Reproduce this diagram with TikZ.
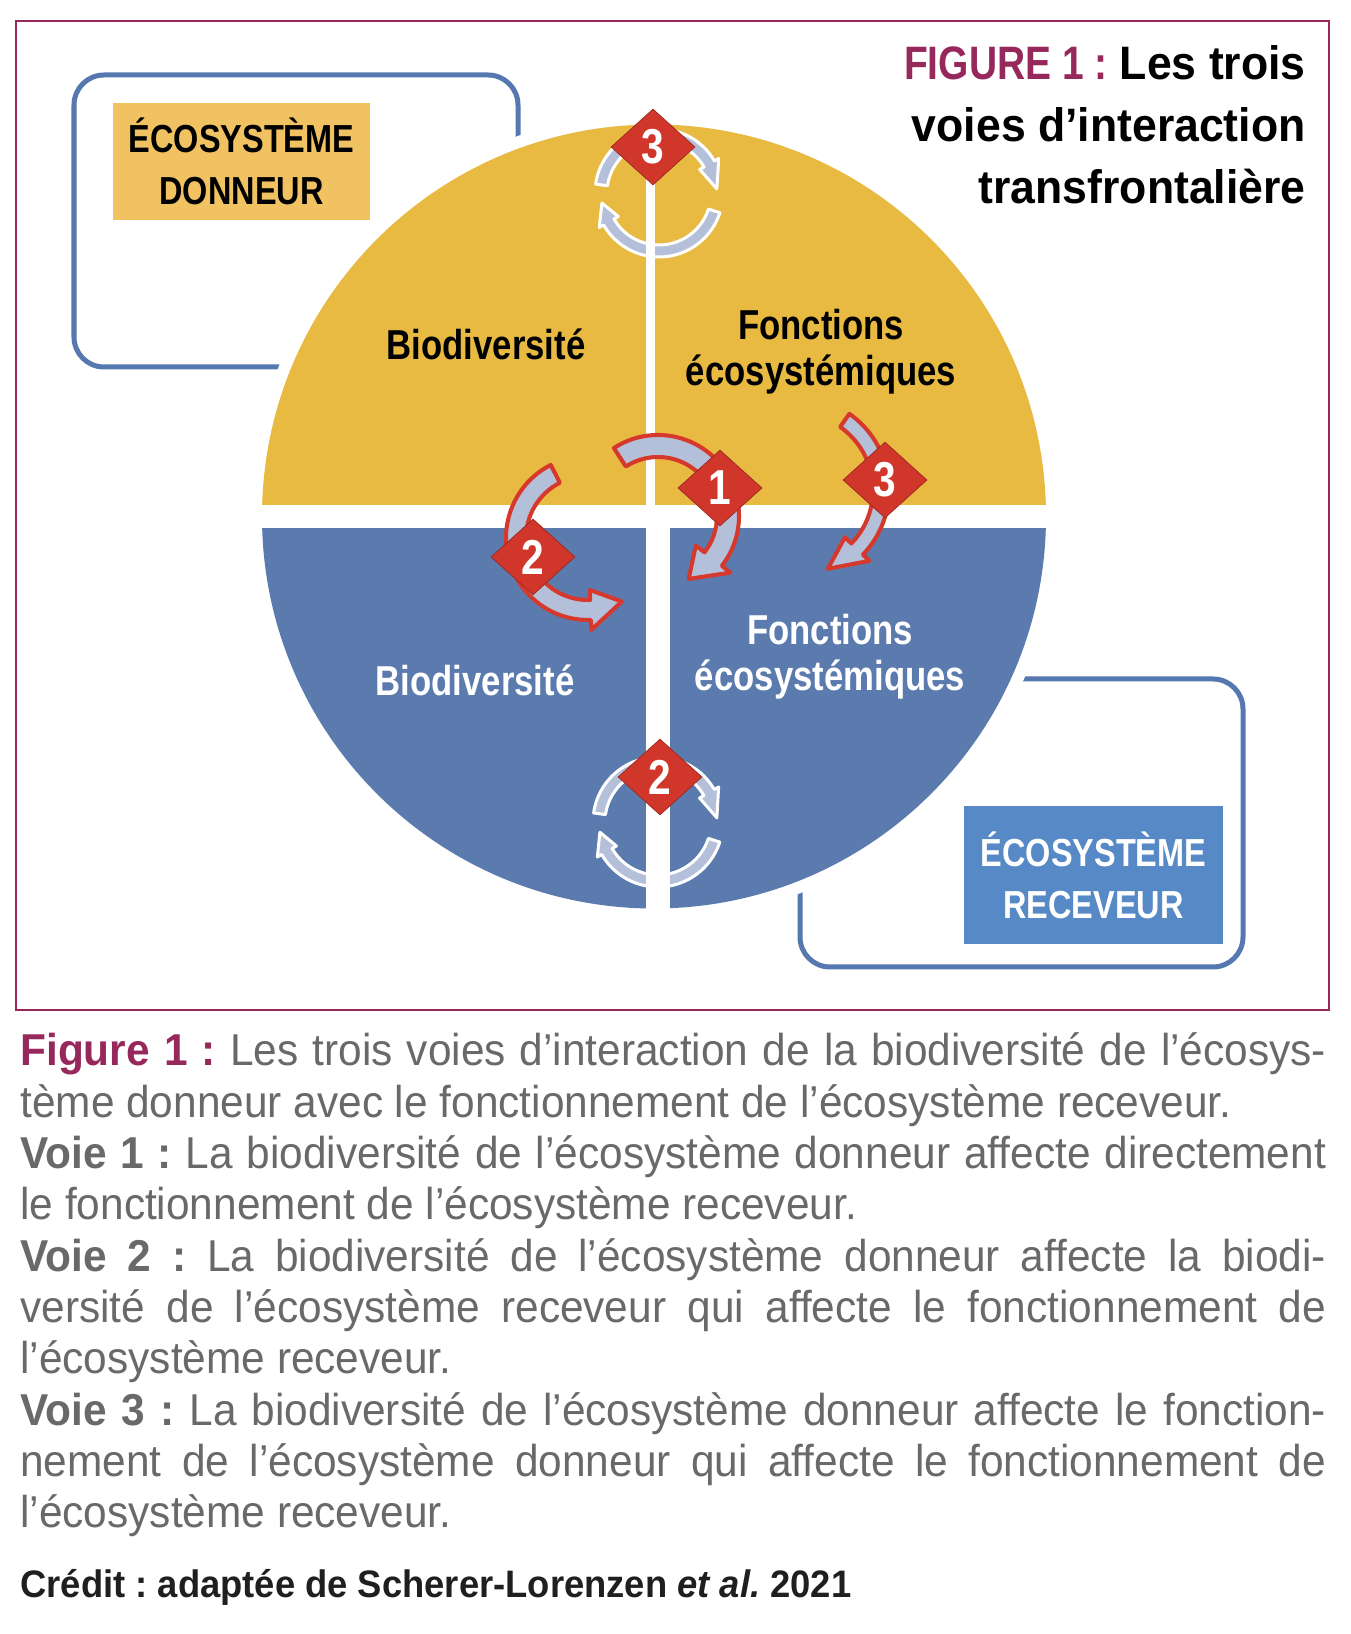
\documentclass[tikz,border=0pt]{standalone}
\usepackage{fontspec}
\setmainfont{Liberation Sans}[FakeStretch=0.95]
\newfontfamily\condfont{Liberation Sans}[FakeStretch=0.83]
\usetikzlibrary{shapes.geometric}

\definecolor{figmag}{RGB}{150,40,92}
\definecolor{capgray}{RGB}{105,105,105}
\definecolor{donoryellow}{RGB}{233,186,66}
\definecolor{donorbox}{RGB}{240,194,98}
\definecolor{receiverblue}{RGB}{91,123,174}
\definecolor{receiverbox}{RGB}{86,137,198}
\definecolor{framebl}{RGB}{85,120,176}
\definecolor{diamondred}{RGB}{208,54,42}
\definecolor{arrowred}{RGB}{214,56,44}
\definecolor{arrowfill}{RGB}{180,192,218}

\def\capw{743.2pt}

% curved band arrow: style, centre, radius, from, to, tip, half band, half head
\newcommand\bendarrow[8]{%
  \pgfmathsetmacro\bandout{#3+#7}%
  \pgfmathsetmacro\bandin{#3-#7}%
  \pgfmathsetmacro\headout{#3+#8}%
  \pgfmathsetmacro\headin{#3-#8}%
  \draw[#1, shift={#2}] (#4:\bandout) arc[start angle=#4, end angle=#5, radius=\bandout]
    -- (#5:\headout) -- (#6:#3) -- (#5:\headin) -- (#5:\bandin)
    arc[start angle=#5, end angle=#4, radius=\bandin] -- cycle;}

\tikzset{
  redarrow/.style={fill=arrowfill, draw=arrowred, line width=2.3pt, line join=round},
  cyclearrow/.style={fill=arrowfill, draw=white, line width=1.7pt, line join=round},
  waynum/.style={shape=diamond, fill=diamondred, draw=diamondred!75!black, line width=0.4pt,
    minimum width=1.68cm, minimum height=1.52cm, inner sep=0pt, text=white,
    font=\condfont\bfseries\fontsize{27.9}{30}\selectfont},
  quadlabel/.style={inner sep=0pt, align=center, font=\condfont\bfseries\fontsize{23.8}{26.2}\selectfont},
  ecobox/.style={inner sep=0pt, align=center, font=\condfont\bfseries\fontsize{22.25}{29.6}\selectfont},
  titleline/.style={anchor=base east, inner sep=0pt, font=\bfseries\fontsize{26.7}{35}\selectfont},
  capline/.style={anchor=base west, inner sep=0pt, text=capgray, font=\fontsize{25.4}{29.2}\selectfont},
  roundframe/.style={draw=framebl, line width=2.85pt, rounded corners=0.6cm},
}

\begin{document}
\frenchspacing
\begin{tikzpicture}[x=0.02cm, y=0.02cm]
	\def\rad{392}
	\useasboundingbox (0,0) rectangle (1350,1634);
	\fill[white] (0,0) rectangle (1350,1634);
	\coordinate (C) at (654,1117.5);
	\draw[draw=figmag, line width=0.85pt] (16,624) rectangle (1329,1613);

	% the two ecosystems, half hidden by the disc
	\draw[roundframe] (74,1267) rectangle (518,1559);
	\draw[roundframe] (800,667) rectangle (1243,955);
	\fill[white] (C) circle (404);
	\begin{scope}
		\clip (200,1117.5) rectangle (1100,1560);
		\fill[donoryellow] (C) circle (\rad);
	\end{scope}
	\begin{scope}
		\clip (200,1117.5) rectangle (1100,700);
		\fill[receiverblue] (C) circle (\rad);
	\end{scope}

	% loops inside each ecosystem
	\bendarrow{cyclearrow}{(659,1441)}{58}{172}{30}{4}{6}{11}
	\bendarrow{cyclearrow}{(659,1441)}{58}{-18}{-150}{-170}{6}{11}
	\bendarrow{cyclearrow}{(658,812)}{59}{172}{30}{4}{6}{11}
	\bendarrow{cyclearrow}{(658,812)}{59}{-18}{-150}{-170}{6}{11}

	\fill[white] (240,1106) rectangle (1070,1129);
	\fill[white] (646,1129) rectangle (655,1530);
	\fill[white] (646,700) rectangle (670,1106);

	% the three ways
	\bendarrow{redarrow}{(658,1118)}{70}{123}{-38}{-64}{11}{22}
	\bendarrow{redarrow}{(588,1096)}{72}{117}{272}{298}{10}{20}
	\bendarrow{redarrow}{(796,1144)}{85}{55}{-44}{-68}{8}{17}

	\node[waynum] (w3top) at (653,1487) {3};
	\node[waynum] (w1) at (720,1146) {1};
	\node[waynum] (w2left) at (533,1077) {2};
	\node[waynum] (w3right) at (885,1154) {3};
	\node[waynum] (w2bot) at (660,857) {2};

	\node[quadlabel, anchor=base] (biodonor) at (486,1274) {Biodiversité};
	\node[quadlabel] (fondonor) at (821,1282) {Fonctions\\écosystémiques};
	\node[quadlabel, anchor=base, text=white] (biorecv) at (475,938) {Biodiversité};
	\node[quadlabel, text=white] (fonrecv) at (830,977) {Fonctions\\écosystémiques};

	\node[ecobox, fill=donorbox, minimum width=5.14cm, minimum height=2.34cm] (donor) at (241.5,1472.25) {ÉCOSYSTÈME\\DONNEUR};
	\node[ecobox, fill=receiverbox, text=white, minimum width=5.18cm, minimum height=2.76cm] (receiver) at (1093.5,759) {ÉCOSYSTÈME\\RECEVEUR};

	\node[titleline] (title1) at (1306,1554) {\textcolor{figmag}{\condfont FIGURE 1 :} Les trois};
	\node[titleline] (title2) at (1306,1492) {voies d’interaction};
	\node[titleline] (title3) at (1306,1430) {transfrontalière};

	% caption under the frame
	\node[capline] (cap1) at (20,568) {\makebox[\capw][s]{\textcolor{figmag}{\bfseries Figure 1 :} Les trois voies d’interaction de la biodiversité de l’écosys-}};
	\node[capline] (cap2) at (20,516.7) {tème donneur avec le fonctionnement de l’écosystème receveur.};
	\node[capline] (cap3) at (20,465.4) {\makebox[\capw][s]{{\bfseries Voie 1 :} La biodiversité de l’écosystème donneur affecte directement}};
	\node[capline] (cap4) at (20,414.1) {le fonctionnement de l’écosystème receveur.};
	\node[capline] (cap5) at (20,362.8) {\makebox[\capw][s]{{\bfseries Voie 2 :} La biodiversité de l’écosystème donneur affecte la biodi-}};
	\node[capline] (cap6) at (20,311.5) {\makebox[\capw][s]{versité de l’écosystème receveur qui affecte le fonctionnement de}};
	\node[capline] (cap7) at (20,260.2) {l’écosystème receveur.};
	\node[capline] (cap8) at (20,208.9) {\makebox[\capw][s]{{\bfseries Voie 3 :} La biodiversité de l’écosystème donneur affecte le fonction-}};
	\node[capline] (cap9) at (20,157.6) {\makebox[\capw][s]{nement de l’écosystème donneur qui affecte le fonctionnement de}};
	\node[capline] (cap10) at (20,106.3) {l’écosystème receveur.};
	\node[capline, text=black!88, font=\bfseries\fontsize{21.8}{26}\selectfont] (credit) at (20,36) {Crédit : adaptée de Scherer-Lorenzen \textit{et al.} 2021};
\end{tikzpicture}
\end{document}
